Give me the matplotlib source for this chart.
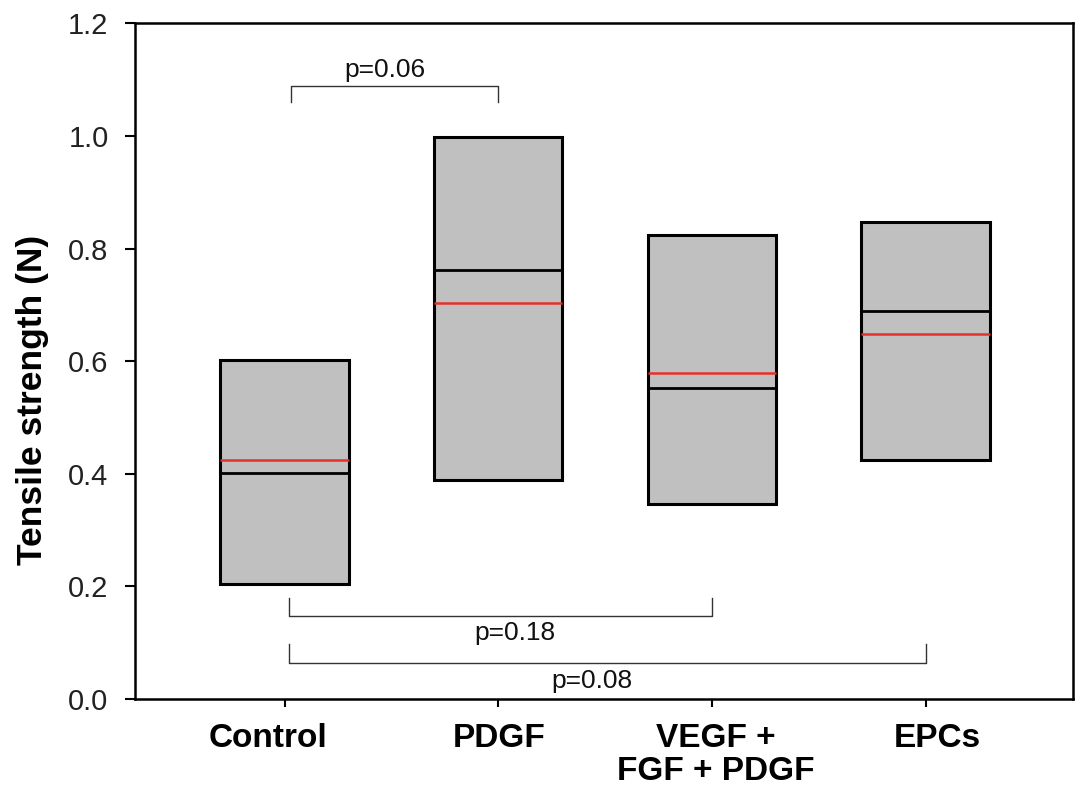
import matplotlib
matplotlib.use("Agg")
import matplotlib.pyplot as plt
import matplotlib.transforms as mtransforms

plt.rcParams['font.family'] = ['Liberation Sans', 'DejaVu Sans']

categories = ["Control", "PDGF", "VEGF +\nFGF + PDGF", "EPCs"]
box_low = [0.204, 0.389, 0.346, 0.425]
box_high = [0.602, 0.998, 0.824, 0.848]
black_line = [0.402, 0.762, 0.552, 0.689]
red_line = [0.425, 0.703, 0.579, 0.648]

# significance brackets: (x_start, x_end, bar_y, tick_end_y, text, text_x, text_y)
brackets = [
    (1.03, 2.0, 1.089, 1.060, "p=0.06", 1.47, 1.117),
    (1.02, 3.0, 0.147, 0.179, "p=0.18", 2.08, 0.117),
    (1.02, 4.0, 0.064, 0.098, "p=0.08", 2.44, 0.032),
]

# horizontal nudges of the category labels (pixels), as in the source figure
label_nudge_px = [-17, 1, 4, 12]

fig = plt.figure(figsize=(10.87, 7.96), dpi=100)
ax = fig.add_axes([135/1087, 97/796, 938/1087, 675.5/796])

pos = list(range(1, len(categories) + 1))
w = 0.6
heights = [h - l for h, l in zip(box_high, box_low)]
ax.bar(pos, heights, bottom=box_low, width=w, color="#c0c0c0",
       edgecolor="black", linewidth=2.2, zorder=2)
ax.hlines(black_line, [p - w/2 for p in pos], [p + w/2 for p in pos],
          colors="black", linewidth=2.0, zorder=3)
ax.hlines(red_line, [p - w/2 for p in pos], [p + w/2 for p in pos],
          colors="#e8302a", linewidth=1.8, zorder=3)

for x0, x1, yb, yt, txt, tx, ty in brackets:
    ax.plot([x0, x0, x1, x1], [yt, yb, yb, yt], color="#333333",
            linewidth=1.0, zorder=2)
    ax.text(tx, ty, txt, ha="center", va="center", fontsize=19, color="#111111")

ax.set_xlim(0.3, 4.69)
ax.set_ylim(0, 1.2)
ax.set_yticks([0.0, 0.2, 0.4, 0.6, 0.8, 1.0, 1.2])
ax.set_yticklabels(["0.0", "0.2", "0.4", "0.6", "0.8", "1.0", "1.2"])
ax.set_xticks(pos)
ax.set_xticklabels(categories, fontweight="bold", fontsize=24, linespacing=1.1)
ax.tick_params(axis="y", direction="out", length=7, width=1.5, pad=12,
               labelsize=21, labelcolor="#222222")
ax.tick_params(axis="x", direction="out", length=6, width=1.5, pad=11)
for s in ax.spines.values():
    s.set_linewidth(1.8)

for lbl, dx in zip(ax.get_xticklabels(), label_nudge_px):
    lbl.set_transform(lbl.get_transform() +
                      mtransforms.ScaledTranslation(dx / 100, 0, fig.dpi_scale_trans))

fig.text(33/1087, 1 - 400/796, "Tensile strength (N)", rotation=90,
         ha="center", va="center", fontsize=25.5, fontweight="bold")

fig.savefig("out.png", dpi=100)
